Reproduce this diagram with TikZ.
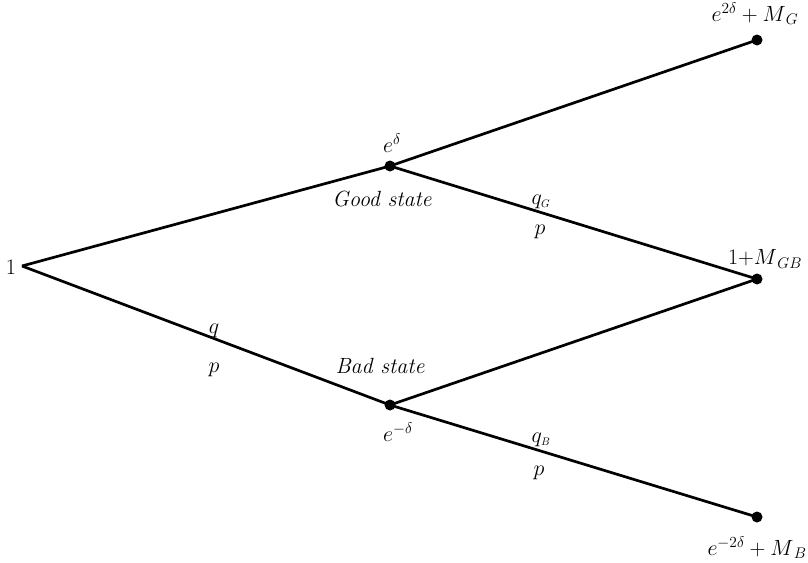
\RequirePackage{fix-cm}
\documentclass[tikz,border=0pt]{standalone}
\begin{document}
\begin{tikzpicture}[x=1pt,y=-1pt,
  edge/.style={line width=2.7pt},
  dot/.style={circle,fill=black,inner sep=0pt,minimum size=11pt},
  lbl/.style={inner sep=0pt,font=\fontsize{22}{24}\selectfont}]
\useasboundingbox (0,0) rectangle (808,562);
\node[dot] (g) at (390,166) {};
\node[dot] (b) at (390,405) {};
\node[dot] (gg) at (757,40) {};
\node[dot] (gb) at (757,279) {};
\node[dot] (bb) at (757,517) {};
\coordinate (r) at (22,266);
\node[lbl] (one) at (11,267) {$1$};
\draw[edge] (r) -- (g.center);
\draw[edge] (r) -- (b.center);
\draw[edge] (g.center) -- (gg.center);
\draw[edge] (g.center) -- (gb.center);
\draw[edge] (b.center) -- (gb.center);
\draw[edge] (b.center) -- (bb.center);
\node[lbl] (lgg) at (755,14) {$e^{2\delta}+M_{\,G}$};
\node[lbl] (lg) at (392,143) {$e^{\delta}$};
\node[lbl] (gs) at (382,199) {\itshape Good state};
\node[lbl] (qg) at (541,202) {$q_{\scriptscriptstyle G}$};
\node[lbl] (pg) at (540,232) {$p$};
\node[lbl] (lgb) at (765,259) {$1{+}M_{\,GB}$};
\node[lbl] (q) at (214,331) {$q$};
\node[lbl] (p) at (214,370) {$p$};
\node[lbl] (bs) at (380,366) {\itshape Bad state};
\node[lbl] (lb) at (398,432) {$e^{-\delta}$};
\node[lbl] (qb) at (541,440) {$q_{\scriptscriptstyle B}$};
\node[lbl] (pb) at (539,473) {$p$};
\node[lbl] (lbb) at (757,548) {$e^{-2\delta}+M_{\,B}$};
\end{tikzpicture}
\end{document}
